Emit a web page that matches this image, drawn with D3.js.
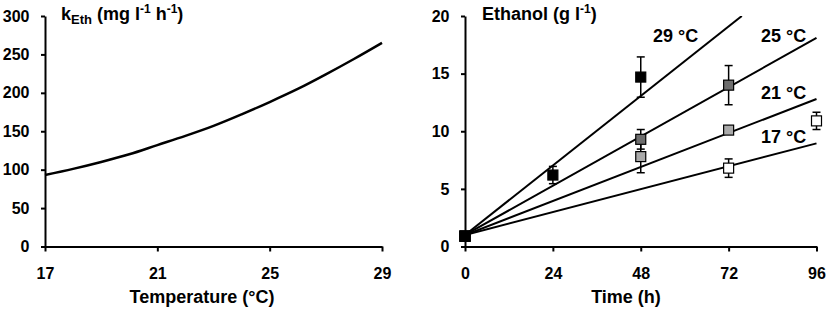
<!DOCTYPE html>
<html>
<head>
<meta charset="utf-8">
<script src="https://cdn.jsdelivr.net/npm/d3@7"></script>
<style>
  body { margin: 0; background: #fff; }
  svg text { font-family: "Liberation Sans", Arial, sans-serif; font-weight: bold; fill: #000; }
</style>
</head>
<body>
<div id="chart"></div>
<script>
// left panel: kEth vs temperature
var temps = [17, 18, 19, 20, 21, 22, 23, 24, 25, 26, 27, 28, 29];
var kEth = [93, 101, 110, 120, 132, 144, 157, 172, 188, 205, 224, 244, 265];
var tempTicks = [17, 21, 25, 29];
var kTicks = [0, 50, 100, 150, 200, 250, 300];

// right panel: ethanol vs time
var seriesNames = ["17 °C", "21 °C", "25 °C", "29 °C"];
var times17 = [0, 72, 96], eth17 = [0.9, 6.8, 10.9], err17 = [0, 0.8, 0.75];
var times21 = [0, 48, 72], eth21 = [0.9, 7.8, 10.1], err21 = [0, 1.4, 0.3];
var times25 = [0, 48, 72], eth25 = [0.9, 9.3, 14.0], err25 = [0, 0.85, 1.7];
var times29 = [0, 24, 48], eth29 = [0.9, 6.2, 14.7], err29 = [0, 0.75, 1.75];
// fitted lines, start and end points [time, ethanol]
var fit17 = [[0, 1.0], [96, 8.95]];
var fit21 = [[0, 1.0], [96, 12.8]];
var fit25 = [[0, 1.0], [96, 18.1]];
var fit29 = [[0, 1.0], [75.6, 20]];
var timeTicks = [0, 24, 48, 72, 96];
var ethTicks = [0, 5, 10, 15, 20];

var width = 829, height = 310;
var svg = d3.select("#chart").append("svg")
    .attr("width", width)
    .attr("height", height);

function styleAxis(g) {
    g.selectAll(".domain").attr("stroke-width", 2);
    g.selectAll(".tick line").attr("stroke-width", 2);
    g.selectAll(".tick text").style("font-size", "16px");
}

// ----- left chart -----
var x1 = d3.scaleLinear().domain([17, 29]).range([45, 382]);
var y1 = d3.scaleLinear().domain([0, 300]).range([246.5, 16]);

svg.append("g")
    .attr("transform", "translate(0," + y1(0) + ")")
    .call(d3.axisBottom(x1).tickValues(tempTicks).tickSize(5).tickSizeOuter(0).tickPadding(16))
    .call(styleAxis);
svg.append("g")
    .attr("transform", "translate(" + x1(17) + ",0)")
    .call(d3.axisLeft(y1).tickValues(kTicks).tickSize(4).tickSizeOuter(0).tickPadding(11.5))
    .call(styleAxis);

var line1 = d3.line()
    .x(function(d, i) { return x1(temps[i]); })
    .y(function(d) { return y1(d); })
    .curve(d3.curveMonotoneX);

svg.append("path")
    .datum(kEth)
    .attr("d", line1)
    .attr("fill", "none")
    .attr("stroke", "#000")
    .attr("stroke-width", 2.5);

var t1 = svg.append("text").attr("x", 61).attr("y", 19.5).style("font-size", "18px");
t1.append("tspan").text("k");
t1.append("tspan").attr("dy", 4).style("font-size", "13px").text("Eth");
t1.append("tspan").attr("dy", -4).text(" (mg l");
t1.append("tspan").attr("dy", -7).style("font-size", "12px").text("-1");
t1.append("tspan").attr("dy", 7).text(" h");
t1.append("tspan").attr("dy", -7).style("font-size", "12px").text("-1");
t1.append("tspan").attr("dy", 7).text(")");

svg.append("text")
    .attr("x", 202).attr("y", 303)
    .attr("text-anchor", "middle")
    .style("font-size", "18px")
    .text("Temperature (°C)");

// ----- right chart -----
var x2 = d3.scaleLinear().domain([0, 96]).range([465, 816.5]);
var y2 = d3.scaleLinear().domain([0, 20]).range([246.5, 16]);

svg.append("defs").append("clipPath").attr("id", "clipR")
    .append("rect")
    .attr("x", x2(0)).attr("y", y2(20))
    .attr("width", x2(96) - x2(0) + 2).attr("height", y2(0) - y2(20));

svg.append("g")
    .attr("transform", "translate(0," + y2(0) + ")")
    .call(d3.axisBottom(x2).tickValues(timeTicks).tickSize(5).tickSizeOuter(0).tickPadding(16))
    .call(styleAxis);
svg.append("g")
    .attr("transform", "translate(" + x2(0) + ",0)")
    .call(d3.axisLeft(y2).tickValues(ethTicks).tickSize(4).tickSizeOuter(0).tickPadding(11.5))
    .call(styleAxis);

var fitLine = d3.line()
    .x(function(d) { return x2(d[0]); })
    .y(function(d) { return y2(d[1]); });

[fit17, fit21, fit25, fit29].forEach(function(f) {
    svg.append("path")
        .datum(f)
        .attr("d", fitLine)
        .attr("clip-path", "url(#clipR)")
        .attr("fill", "none")
        .attr("stroke", "#000")
        .attr("stroke-width", 2);
});

var series = [
    { t: times17, v: eth17, e: err17, fill: "#ffffff" },
    { t: times21, v: eth21, e: err21, fill: "#aaaaaa" },
    { t: times25, v: eth25, e: err25, fill: "#6e6e6e" },
    { t: times29, v: eth29, e: err29, fill: "#000000" }
];

var ms = 10, cap = 4;
series.forEach(function(s) {
    var pts = s.t.map(function(t, i) { return { t: t, v: s.v[i], e: s.e[i] }; });
    var g = svg.append("g");
    var eb = g.selectAll(".err").data(pts.filter(function(d) { return d.e > 0; }))
        .enter().append("g")
        .attr("stroke", "#000")
        .attr("stroke-width", 1.5);
    eb.append("line")
        .attr("x1", function(d) { return x2(d.t); })
        .attr("x2", function(d) { return x2(d.t); })
        .attr("y1", function(d) { return y2(d.v + d.e); })
        .attr("y2", function(d) { return y2(d.v - d.e); });
    eb.append("line")
        .attr("x1", function(d) { return x2(d.t) - cap; })
        .attr("x2", function(d) { return x2(d.t) + cap; })
        .attr("y1", function(d) { return y2(d.v + d.e); })
        .attr("y2", function(d) { return y2(d.v + d.e); });
    eb.append("line")
        .attr("x1", function(d) { return x2(d.t) - cap; })
        .attr("x2", function(d) { return x2(d.t) + cap; })
        .attr("y1", function(d) { return y2(d.v - d.e); })
        .attr("y2", function(d) { return y2(d.v - d.e); });
    g.selectAll(".pt").data(pts)
        .enter().append("rect")
        .attr("x", function(d) { return x2(d.t) - ms / 2; })
        .attr("y", function(d) { return y2(d.v) - ms / 2; })
        .attr("width", ms)
        .attr("height", ms)
        .attr("fill", s.fill)
        .attr("stroke", "#000")
        .attr("stroke-width", 1.2);
});

// series labels
var labelPos = [[761, 143], [761, 99], [761, 41.5], [653, 41.5]];
seriesNames.forEach(function(n, i) {
    svg.append("text")
        .attr("x", labelPos[i][0]).attr("y", labelPos[i][1])
        .style("font-size", "18px")
        .text(n);
});

var t2 = svg.append("text").attr("x", 482).attr("y", 19.5).style("font-size", "18px");
t2.append("tspan").text("Ethanol (g l");
t2.append("tspan").attr("dy", -7).style("font-size", "12px").text("-1");
t2.append("tspan").attr("dy", 7).text(")");

svg.append("text")
    .attr("x", 626).attr("y", 303)
    .attr("text-anchor", "middle")
    .style("font-size", "18px")
    .text("Time (h)");
</script>
</body>
</html>
